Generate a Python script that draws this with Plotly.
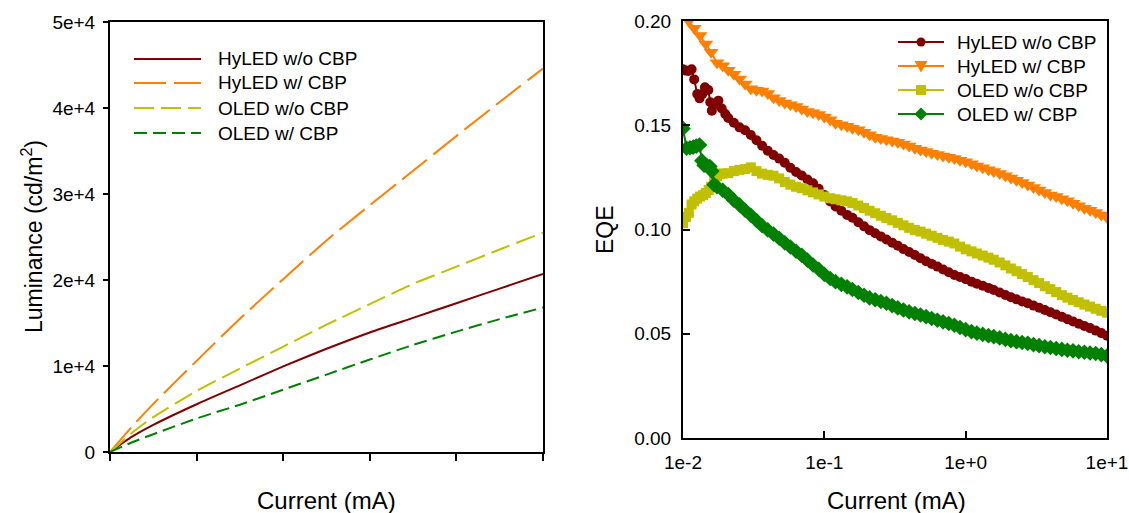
import plotly.graph_objects as go

W, H = 1129, 513

# ---------------- data: left panel (Luminance vs current) ----------------
lum_current = [0, 0.5, 1, 2, 3, 4, 5, 6, 7, 8, 9, 10]
lum_hyled_wo = [0, 1750, 3150, 5550, 7750, 9950, 12000, 13900, 15600, 17300, 19000, 20700]
lum_hyled_w = [0, 2900, 5600, 10600, 15500, 20100, 24600, 28700, 32700, 36750, 40700, 44600]
lum_oled_wo = [0, 2200, 4060, 7100, 9700, 12250, 14800, 17200, 19550, 21550, 23550, 25500]
lum_oled_w = [0, 1100, 2070, 3900, 5500, 7250, 9000, 10750, 12450, 14000, 15450, 16800]
lum_yticks = [0, 10000, 20000, 30000, 40000, 50000]
lum_yticklabels = ["0", "1e+4", "2e+4", "3e+4", "4e+4", "5e+4"]
lum_xticks = [0, 2, 4, 6, 8, 10]

# ---------------- data: right panel (EQE vs current) ----------------
# common current values (mA) for the smooth part of the curves
grid_current = [0.0209, 0.0229, 0.0251, 0.0275, 0.0302, 0.0331, 0.0363, 0.0398, 0.0437, 0.0479,
                0.0525, 0.0575, 0.0631, 0.0692, 0.0759, 0.0832, 0.0912, 0.100, 0.110, 0.120,
                0.132, 0.145, 0.158, 0.174, 0.191, 0.209, 0.229, 0.251, 0.275, 0.302,
                0.331, 0.363, 0.398, 0.437, 0.479, 0.525, 0.575, 0.631, 0.692, 0.759,
                0.832, 0.912, 1.00, 1.10, 1.20, 1.32, 1.45, 1.58, 1.74, 1.91,
                2.09, 2.29, 2.51, 2.75, 3.02, 3.31, 3.63, 3.98, 4.37, 4.79,
                5.25, 5.75, 6.31, 6.92, 7.59, 8.32, 9.12, 10.0]

eqe_hyled_wo_x = [0.0100, 0.0105, 0.0109, 0.0115, 0.0120, 0.0126, 0.0131, 0.0137, 0.0143, 0.0151,
                  0.0156, 0.0160, 0.0168, 0.0178, 0.0188, 0.0199] + grid_current
eqe_hyled_wo = [0.1768, 0.1762, 0.1760, 0.1768, 0.1720, 0.1650, 0.1629, 0.1650, 0.1682, 0.1669,
                0.1610, 0.1570, 0.1600, 0.1618, 0.1580, 0.1554,
                0.1535, 0.1512, 0.1490, 0.1476, 0.1453, 0.1428, 0.1402, 0.1378, 0.1357, 0.1340,
                0.1320, 0.1296, 0.1276, 0.1259, 0.1240, 0.1222, 0.1195, 0.1165, 0.1135, 0.1110,
                0.1090, 0.1070, 0.1056, 0.1035, 0.1015, 0.0997, 0.0982, 0.0967, 0.0952, 0.0937,
                0.0922, 0.0906, 0.0892, 0.0878, 0.0862, 0.0848, 0.0835, 0.0822, 0.0808, 0.0795,
                0.0782, 0.0772, 0.0762, 0.0750, 0.0740, 0.0730, 0.0720, 0.0710, 0.0698, 0.0686,
                0.0675, 0.0665, 0.0655, 0.0646, 0.0635, 0.0625, 0.0614, 0.0603, 0.0592, 0.0581,
                0.0570, 0.0559, 0.0548, 0.0537, 0.0527, 0.0515, 0.0503, 0.0490]

eqe_hyled_w_x = [0.0110, 0.0120, 0.0132, 0.0145, 0.0158, 0.0174, 0.0191] + grid_current
eqe_hyled_w = [0.2000, 0.1965, 0.1930, 0.1890, 0.1850, 0.1800, 0.1785,
               0.1764, 0.1745, 0.1722, 0.1698, 0.1675, 0.1668, 0.1664, 0.1652, 0.1632, 0.1619,
               0.1607, 0.1598, 0.1590, 0.1578, 0.1566, 0.1560, 0.1551, 0.1540, 0.1526, 0.1510,
               0.1502, 0.1495, 0.1486, 0.1478, 0.1467, 0.1455, 0.1443, 0.1436, 0.1430, 0.1425,
               0.1418, 0.1410, 0.1400, 0.1390, 0.1381, 0.1374, 0.1366, 0.1360, 0.1352, 0.1346,
               0.1340, 0.1332, 0.1325, 0.1315, 0.1305, 0.1296, 0.1287, 0.1278, 0.1269, 0.1258,
               0.1247, 0.1236, 0.1225, 0.1213, 0.1202, 0.1190, 0.1178, 0.1166, 0.1158, 0.1148,
               0.1138, 0.1126, 0.1114, 0.1102, 0.1092, 0.1082, 0.1070, 0.1057]

eqe_oled_wo_x = [0.0100, 0.0105, 0.0110, 0.0115, 0.0120, 0.0126, 0.0132, 0.0139, 0.0145, 0.0152,
                 0.0158, 0.0166, 0.0174, 0.0183, 0.0191] + grid_current
eqe_oled_wo = [0.1030, 0.1060, 0.1080, 0.1120, 0.1135, 0.1148, 0.1158, 0.1165, 0.1175, 0.1190,
               0.1205, 0.1235, 0.1255, 0.1268, 0.1268,
               0.1270, 0.1280, 0.1286, 0.1290, 0.1298, 0.1280, 0.1268, 0.1262, 0.1258, 0.1245,
               0.1228, 0.1215, 0.1205, 0.1198, 0.1188, 0.1178, 0.1168, 0.1158, 0.1150, 0.1145,
               0.1140, 0.1135, 0.1127, 0.1115, 0.1103, 0.1090, 0.1078, 0.1066, 0.1055, 0.1044,
               0.1032, 0.1020, 0.1008, 0.0998, 0.0990, 0.0980, 0.0970, 0.0960, 0.0950, 0.0942,
               0.0933, 0.0918, 0.0905, 0.0895, 0.0885, 0.0875, 0.0865, 0.0855, 0.0842, 0.0828,
               0.0813, 0.0800, 0.0786, 0.0772, 0.0757, 0.0743, 0.0728, 0.0714, 0.0700, 0.0685,
               0.0673, 0.0662, 0.0651, 0.0640, 0.0630, 0.0620, 0.0610, 0.0601]

eqe_oled_w_x = [0.0100, 0.0106, 0.0112, 0.0118, 0.0124, 0.0131, 0.0136, 0.0141, 0.0148, 0.0155,
                0.0160, 0.0166, 0.0174, 0.0191] + grid_current
eqe_oled_w = [0.1485, 0.1390, 0.1392, 0.1395, 0.1400, 0.1405, 0.1330, 0.1308, 0.1305, 0.1302,
              0.1280, 0.1215, 0.1205, 0.1188,
              0.1168, 0.1140, 0.1118, 0.1092, 0.1068, 0.1043, 0.1018, 0.0998, 0.0978, 0.0958,
              0.0936, 0.0916, 0.0896, 0.0876, 0.0853, 0.0830, 0.0809, 0.0785, 0.0765, 0.0750,
              0.0737, 0.0725, 0.0712, 0.0698, 0.0685, 0.0672, 0.0663, 0.0655, 0.0646, 0.0635,
              0.0624, 0.0614, 0.0605, 0.0597, 0.0590, 0.0582, 0.0573, 0.0565, 0.0557, 0.0549,
              0.0541, 0.0530, 0.0520, 0.0510, 0.0503, 0.0497, 0.0491, 0.0486, 0.0480, 0.0473,
              0.0467, 0.0462, 0.0458, 0.0454, 0.0448, 0.0443, 0.0438, 0.0434, 0.0429, 0.0425,
              0.0421, 0.0418, 0.0414, 0.0411, 0.0408, 0.0405, 0.0400, 0.0393]

eqe_xticks = [0.01, 0.1, 1, 10]
eqe_xticklabels = ["1e-2", "1e-1", "1e+0", "1e+1"]
eqe_yticks = [0, 0.05, 0.10, 0.15, 0.20]
eqe_yticklabels = ["0.00", "0.05", "0.10", "0.15", "0.20"]

series_names = ["HyLED w/o CBP", "HyLED w/ CBP", "OLED w/o CBP", "OLED w/ CBP"]
colors = ["#800000", "#FF8000", "#C0C000", "#008000"]
left_dashes = ["solid", "32px,8px", "20px,7px", "13px,6px"]
markers = ["circle", "triangle-down", "square", "diamond"]
marker_sizes = [10, 13, 10, 12]

FONT = "Liberation Sans, Arial, sans-serif"

fig = go.Figure()

lum_series = [lum_hyled_wo, lum_hyled_w, lum_oled_wo, lum_oled_w]
for name, ys, c, d in zip(series_names, lum_series, colors, left_dashes):
    fig.add_trace(go.Scatter(x=lum_current, y=ys, mode="lines", name=name,
                             line=dict(color=c, width=2, dash=d, shape="spline", smoothing=0.6),
                             xaxis="x", yaxis="y", showlegend=False))

eqe_series = [(eqe_hyled_wo_x, eqe_hyled_wo), (eqe_hyled_w_x, eqe_hyled_w),
              (eqe_oled_wo_x, eqe_oled_wo), (eqe_oled_w_x, eqe_oled_w)]
for name, (xs, ys), c, m, s in zip(series_names, eqe_series, colors, markers, marker_sizes):
    fig.add_trace(go.Scatter(x=xs, y=ys, mode="lines+markers", name=name,
                             line=dict(color=c, width=2),
                             marker=dict(color=c, symbol=m, size=s, line=dict(width=0)),
                             xaxis="x2", yaxis="y2", showlegend=False))


def px_x(p):
    return p / W


def px_y(p):
    return 1 - p / H


axis_common = dict(showgrid=False, zeroline=False, showline=True, linecolor="black",
                   linewidth=2, mirror=True, tickcolor="black", tickwidth=2,
                   tickfont=dict(family=FONT, size=19, color="black"), automargin=False)

fig.update_layout(
    width=W, height=H,
    margin=dict(l=0, r=0, t=0, b=0),
    paper_bgcolor="white", plot_bgcolor="white",
    font=dict(family=FONT, color="black"),
    xaxis=dict(domain=[px_x(110), px_x(543)], range=[0, 10], tickmode="array",
               tickvals=lum_xticks, showticklabels=False, ticks="outside", ticklen=7,
               anchor="y", **axis_common),
    yaxis=dict(domain=[px_y(452), px_y(22)], range=[0, 50000], tickmode="array",
               tickvals=lum_yticks, ticktext=lum_yticklabels, ticks="outside", ticklen=5,
               anchor="x", ticklabelstandoff=4, **axis_common),
    xaxis2=dict(domain=[px_x(683), px_x(1107)], type="log", range=[-2, 1], tickmode="array",
                tickvals=eqe_xticks, ticktext=eqe_xticklabels, ticks="inside", ticklen=7,
                anchor="y2", ticklabelstandoff=6, **axis_common),
    yaxis2=dict(domain=[px_y(438), px_y(21)], range=[0, 0.2], tickmode="array",
                tickvals=eqe_yticks, ticktext=eqe_yticklabels, ticks="inside", ticklen=7,
                anchor="x2", ticklabelstandoff=6, **axis_common),
)

annotations = [
    dict(text="Luminance (cd/m<sup>2</sup>)", x=px_x(32), y=px_y(237), textangle=-90,
         font=dict(size=23)),
    dict(text="Current (mA)", x=px_x(326), y=px_y(500), font=dict(size=24)),
    dict(text="EQE", x=px_x(605), y=px_y(230), textangle=-90, font=dict(size=23)),
    dict(text="Current (mA)", x=px_x(896), y=px_y(500), font=dict(size=24)),
]
for a in annotations:
    a.update(xref="paper", yref="paper", showarrow=False, xanchor="center", yanchor="middle")
    a["font"].update(family=FONT, color="black")

shapes = []
# Left legend (lines only)
left_rows = [59, 83, 108, 133]
for name, c, d, row in zip(series_names, colors, left_dashes, left_rows):
    shapes.append(dict(type="line", xref="paper", yref="paper",
                       x0=px_x(134), x1=px_x(201), y0=px_y(row), y1=px_y(row),
                       line=dict(color=c, width=2, dash=d)))
    annotations.append(dict(text=name, x=px_x(216), y=px_y(row), xref="paper", yref="paper",
                            showarrow=False, xanchor="left", yanchor="middle",
                            font=dict(family=FONT, size=19, color="black")))

# Right legend (line + marker)
right_rows = [42, 66, 90, 114]
lx0, lx1, lxm = 898, 944, 921
for name, c, m, row in zip(series_names, colors, markers, right_rows):
    shapes.append(dict(type="line", xref="paper", yref="paper",
                       x0=px_x(lx0), x1=px_x(lx1), y0=px_y(row), y1=px_y(row),
                       line=dict(color=c, width=2)))
    if m == "circle":
        shapes.append(dict(type="circle", xref="paper", yref="paper",
                           x0=px_x(lxm - 4.5), x1=px_x(lxm + 4.5),
                           y0=px_y(row - 4.5), y1=px_y(row + 4.5),
                           fillcolor=c, line=dict(width=0)))
    elif m == "square":
        shapes.append(dict(type="rect", xref="paper", yref="paper",
                           x0=px_x(lxm - 5), x1=px_x(lxm + 5),
                           y0=px_y(row - 5), y1=px_y(row + 5),
                           fillcolor=c, line=dict(width=0)))
    elif m == "triangle-down":
        path = "M {} {} L {} {} L {} {} Z".format(
            px_x(lxm - 6.5), px_y(row - 5), px_x(lxm + 6.5), px_y(row - 5),
            px_x(lxm), px_y(row + 6.5))
        shapes.append(dict(type="path", xref="paper", yref="paper", path=path,
                           fillcolor=c, line=dict(width=0)))
    else:
        path = "M {} {} L {} {} L {} {} L {} {} Z".format(
            px_x(lxm - 6.5), px_y(row), px_x(lxm), px_y(row - 6.5),
            px_x(lxm + 6.5), px_y(row), px_x(lxm), px_y(row + 6.5))
        shapes.append(dict(type="path", xref="paper", yref="paper", path=path,
                           fillcolor=c, line=dict(width=0)))
    annotations.append(dict(text=name, x=px_x(955), y=px_y(row), xref="paper", yref="paper",
                            showarrow=False, xanchor="left", yanchor="middle",
                            font=dict(family=FONT, size=19, color="black")))

fig.update_layout(annotations=annotations, shapes=shapes)
fig.write_html("out.html")
